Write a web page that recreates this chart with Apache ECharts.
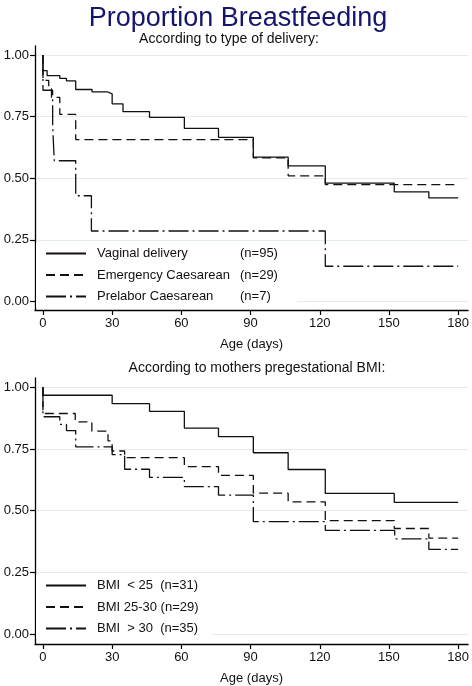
<!DOCTYPE html>
<html><head><meta charset="utf-8">
<script src="https://cdn.jsdelivr.net/npm/echarts@6/dist/echarts.min.js"></script>
<style>html,body{margin:0;padding:0;background:#fff}#c{width:472px;height:686px}</style>
</head><body><div id="c"></div>
<script>
// ---- data (days, survival proportion) ----
const xTicks = [0, 30, 60, 90, 120, 150, 180];
const yTicks = [0, 0.25, 0.5, 0.75, 1];

const vagDays = [0, 0, 1.8, 7.3, 10.2, 14.2, 21.3, 28.2, 30, 34.7, 46.2, 61.3, 76.1, 91.2, 106.3, 122.4, 152.3, 167.3, 180];
const vagVals = [1, 0.937, 0.916, 0.905, 0.895, 0.860, 0.850, 0.842, 0.802, 0.770, 0.747, 0.702, 0.666, 0.586, 0.550, 0.480, 0.445, 0.420, 0.420];

const emDays = [0, 0, 2.5, 3.7, 7.3, 14.2, 91.2, 106.3, 122.4, 180];
const emVals = [1, 0.897, 0.862, 0.828, 0.759, 0.657, 0.583, 0.510, 0.474, 0.474];

const preDays = [0, 0, 4.2, 4.9, 14.2, 21, 122.4, 180];
const preVals = [1, 0.857, 0.714, 0.571, 0.429, 0.286, 0.143, 0.143];

const b1Days = [0, 0, 30, 46.2, 61.3, 76.1, 91.2, 106.3, 122.4, 152.3, 180];
const b1Vals = [1, 0.968, 0.934, 0.903, 0.835, 0.800, 0.735, 0.667, 0.570, 0.534, 0.534];

const b2Days = [0, 0, 14, 21.2, 28.2, 30, 35.4, 61.3, 76.1, 91.2, 106.3, 122.4, 152.3, 167.3, 180];
const b2Vals = [1, 0.894, 0.860, 0.823, 0.783, 0.742, 0.715, 0.679, 0.643, 0.571, 0.536, 0.460, 0.428, 0.389, 0.389];

const b3Days = [0, 0, 7.3, 10.2, 14.2, 30, 35.4, 46.2, 61.3, 76.1, 91.2, 122.4, 152.5, 167.3, 180];
const b3Vals = [1, 0.881, 0.850, 0.825, 0.759, 0.727, 0.668, 0.635, 0.598, 0.563, 0.456, 0.420, 0.386, 0.343, 0.343];

const topNames = ['Vaginal delivery', 'Emergency Caesarean', 'Prelabor Caesarean'];
const topN = ['(n=95)', '(n=29)', '(n=7)'];
const botNames = ['BMI  < 25  (n=31)', 'BMI 25-30 (n=29)', 'BMI  > 30  (n=35)'];

// ---- build ----
const zip = (d, v) => d.map((x, i) => [x, v[i]]);
const FONT = '"Liberation Sans", Arial, sans-serif';
const INK = '#111';
const dashes = ['solid', [9, 5], [20, 4, 2, 4]];

function xAx(gi) {
  return {
    type: 'value', gridIndex: gi, min: -3.45, max: 184.3,
    name: 'Age (days)', nameLocation: 'middle', nameGap: 28,
    nameTextStyle: { fontFamily: FONT, fontSize: 13, color: INK },
    axisLine: { show: true, onZero: false, lineStyle: { color: '#000', width: 1.3 } },
    axisTick: { show: true, length: 5, customValues: xTicks, lineStyle: { color: '#000', width: 1.2 } },
    axisLabel: { customValues: xTicks, fontFamily: FONT, fontSize: 13, color: INK, margin: 7 },
    splitLine: { show: false }
  };
}
function yAx(gi, mn, mx) {
  return {
    type: 'value', gridIndex: gi, min: mn, max: mx,
    axisLine: { show: true, onZero: false, lineStyle: { color: '#000', width: 1.3 } },
    axisTick: { show: true, length: 5, customValues: yTicks, lineStyle: { color: '#000', width: 1.2 } },
    axisLabel: { customValues: yTicks, fontFamily: FONT, fontSize: 13, color: INK, margin: 6,
      formatter: v => v.toFixed(2) },
    splitLine: { show: true, customValues: yTicks, lineStyle: { color: '#e3ecec', width: 1.2 } }
  };
}
function ser(name, data, gi, k) {
  return {
    name, type: 'line', step: 'end', data, xAxisIndex: gi, yAxisIndex: gi,
    symbol: 'none', showSymbol: false, silent: true, animation: false,
    lineStyle: { color: INK, width: 1.3, type: dashes[k] },
    itemStyle: { color: INK }
  };
}
const legendBase = {
  orient: 'vertical', itemWidth: 40, itemHeight: 12, itemGap: 8.5,
  backgroundColor: '#fff', selectedMode: false,
  itemStyle: { opacity: 0, color: 'rgba(0,0,0,0)', borderWidth: 0 }
};

const chart = echarts.init(document.getElementById('c'), null, { renderer: 'canvas' });
chart.setOption({
  animation: false,
  backgroundColor: '#fff',
  title: [
    { text: 'Proportion Breastfeeding', left: 233, top: 0, textAlign: 'center',
      textStyle: { fontFamily: FONT, fontSize: 27, fontWeight: 'normal', color: '#15156e' } },
    { text: 'According to type of delivery:', left: 224, top: 27, textAlign: 'center',
      textStyle: { fontFamily: FONT, fontSize: 14, fontWeight: 'normal', color: INK } },
    { text: 'According to mothers pregestational BMI:', left: 252, top: 356, textAlign: 'center',
      textStyle: { fontFamily: FONT, fontSize: 14, fontWeight: 'normal', color: INK } }
  ],
  grid: [
    { left: 35, top: 46, width: 435, height: 264 },
    { left: 35, top: 378, width: 435, height: 268 }
  ],
  xAxis: [xAx(0), xAx(1)],
  yAxis: [yAx(0, -0.0345, 1.0365), yAx(1, -0.0403, 1.038)],
  legend: [
    Object.assign({}, legendBase, {
      data: topNames, left: 36, top: 243, padding: [4, 19, 4, 9],
      formatter: n => '{a|' + n + '}{b|' + topN[topNames.indexOf(n)] + '}',
      textStyle: { fontFamily: FONT, fontSize: 13, color: INK,
        rich: { a: { width: 143, padding: [0, 0, 0, 6], fontFamily: FONT, fontSize: 13, color: INK },
                b: { fontFamily: FONT, fontSize: 13, color: INK } } } }),
    Object.assign({}, legendBase, {
      data: botNames, left: 36, top: 575, padding: [4, 14, 4, 9],
      formatter: n => '{a|' + n + '}',
      textStyle: { fontFamily: FONT, fontSize: 13, color: INK,
        rich: { a: { padding: [0, 0, 0, 6], fontFamily: FONT, fontSize: 13, color: INK } } } })
  ],
  series: [
    ser(topNames[0], zip(vagDays, vagVals), 0, 0),
    ser(topNames[1], zip(emDays, emVals), 0, 1),
    ser(topNames[2], zip(preDays, preVals), 0, 2),
    ser(botNames[0], zip(b1Days, b1Vals), 1, 0),
    ser(botNames[1], zip(b2Days, b2Vals), 1, 1),
    ser(botNames[2], zip(b3Days, b3Vals), 1, 2)
  ]
});
</script></body></html>
